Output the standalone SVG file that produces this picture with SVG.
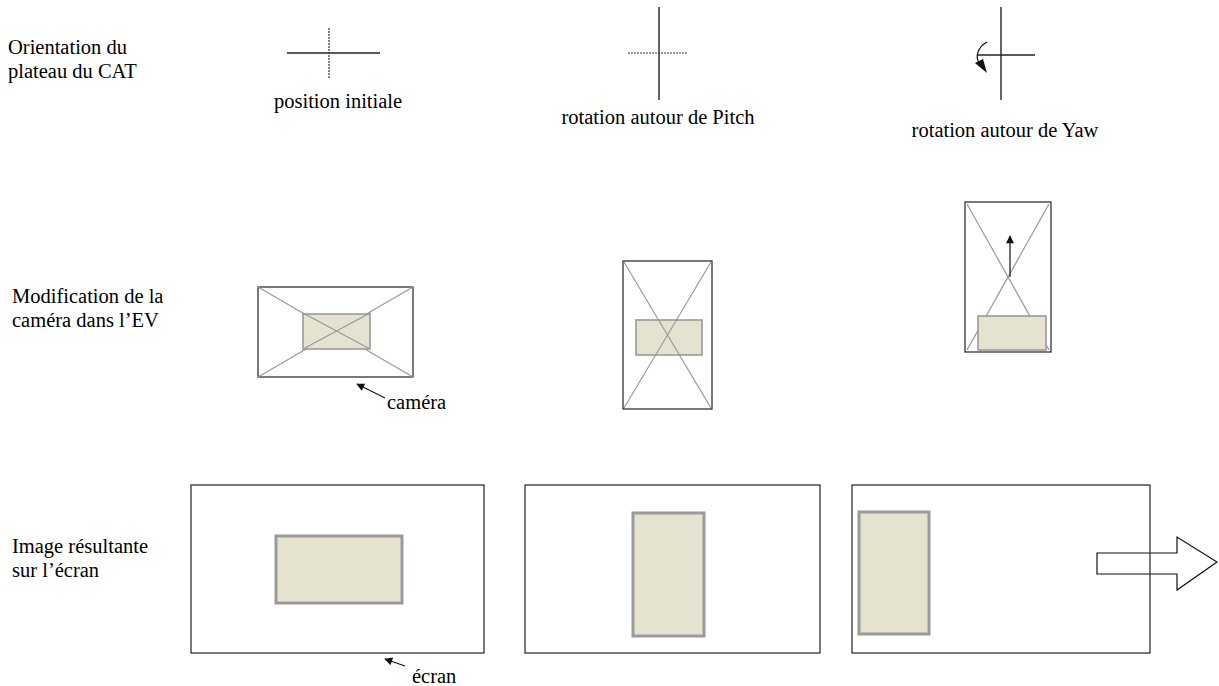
<svg xmlns="http://www.w3.org/2000/svg" width="1219" height="686" viewBox="0 0 1219 686">
<defs>
<style>
.frame{fill:none;stroke:#222;stroke-width:1.2}
.diag{stroke:#999;stroke-width:1.2;fill:none}
.obj{fill:#e5e2d0;stroke:#9a9a9a;stroke-width:1.6}
.obj3{fill:#e5e2d0;stroke:#9a9a9a;stroke-width:3}
.ax{stroke:#222;stroke-width:1.4;fill:none}
.axd{stroke:#333;stroke-width:1.2;stroke-dasharray:2 1;fill:none}
.ln{stroke:#111;stroke-width:1.2;fill:none}
</style>
<marker id="ah" viewBox="0 0 10 10" refX="9" refY="5" markerWidth="10" markerHeight="8" markerUnits="userSpaceOnUse" orient="auto">
<path d="M0,0 L10,5 L0,10 z" fill="#111"/>
</marker>
</defs>
<g id="labels">
<text style="font-family:'Liberation Serif',serif" font-size="20.5" x="8" y="54">Orientation du</text>
<text style="font-family:'Liberation Serif',serif" font-size="20.5" x="8" y="78">plateau du CAT</text>
<text style="font-family:'Liberation Serif',serif" font-size="20.5" x="12" y="303">Modification de la</text>
<text style="font-family:'Liberation Serif',serif" font-size="20.5" x="12" y="327">caméra dans l’EV</text>
<text style="font-family:'Liberation Serif',serif" font-size="20.5" x="12" y="553">Image résultante</text>
<text style="font-family:'Liberation Serif',serif" font-size="20.5" x="12" y="577">sur l’écran</text>
</g>
<g id="orient-initial">
<line class="ax" x1="287" y1="53" x2="380" y2="53"/>
<line class="axd" x1="329" y1="28" x2="329" y2="79"/>
<text style="font-family:'Liberation Serif',serif" font-size="20.5" x="274" y="108">position initiale</text>
</g>
<g id="orient-pitch">
<line class="ax" x1="659" y1="7" x2="659" y2="100"/>
<line class="axd" x1="628" y1="53" x2="688" y2="53"/>
<text style="font-family:'Liberation Serif',serif" font-size="20.5" x="658" y="124" text-anchor="middle">rotation autour de Pitch</text>
</g>
<g id="orient-yaw">
<line class="ax" x1="1001" y1="7" x2="1001" y2="100"/>
<line class="ax" x1="977" y1="55" x2="1035" y2="55"/>
<path class="ln" d="M987,42 C978,47 975,56 979,63"/>
<polygon points="975,63 987,73 983,59" fill="#111"/>
<text style="font-family:'Liberation Serif',serif" font-size="20.5" x="1005" y="137" text-anchor="middle">rotation autour de Yaw</text>
</g>
<g id="camera-initial">
<rect class="frame" x="258" y="287" width="155" height="90"/>
<line class="diag" x1="258" y1="287" x2="413" y2="377"/>
<line class="diag" x1="413" y1="287" x2="258" y2="377"/>
<rect class="obj" x="303" y="314" width="67" height="35"/>
<line class="diag" x1="303" y1="313" x2="370" y2="349"/>
<line class="diag" x1="370" y1="313" x2="303" y2="349"/>
<text style="font-family:'Liberation Serif',serif" font-size="20.5" x="387" y="409">caméra</text>
</g>
<g id="camera-pitch">
<rect class="frame" x="623" y="261" width="89" height="148"/>
<rect class="obj" x="636" y="320" width="66" height="35"/>
<line class="diag" x1="624" y1="262" x2="711" y2="408"/>
<line class="diag" x1="711" y1="262" x2="624" y2="408"/>
</g>
<g id="camera-yaw">
<rect class="frame" x="965" y="202" width="86" height="150"/>
<line class="diag" x1="967" y1="204" x2="1049" y2="350"/>
<line class="diag" x1="1049" y1="204" x2="967" y2="350"/>
<rect class="obj" x="978" y="316" width="68" height="34"/>
</g>
<g id="screen-initial">
<rect class="frame" x="191" y="485" width="293" height="168"/>
<rect class="obj3" x="276" y="536" width="126" height="67"/>
<text style="font-family:'Liberation Serif',serif" font-size="20.5" x="412" y="683">écran</text>
</g>
<g id="screen-pitch">
<rect class="frame" x="525" y="485" width="295" height="168"/>
<rect class="obj3" x="633" y="513" width="71" height="123"/>
</g>
<g id="screen-yaw">
<polygon points="1097,553 1177,553 1177,537 1217,562 1177,590 1177,574 1097,574" fill="none" stroke="#111" stroke-width="1.2"/>
<rect class="frame" x="852" y="485" width="298" height="168"/>
<rect class="obj3" x="859" y="512" width="70" height="122"/>
</g>
<g id="connectors">
<line class="ln" x1="1010" y1="277" x2="1010" y2="236" marker-end="url(#ah)"/>
<line class="ln" x1="385" y1="398" x2="357" y2="384" marker-end="url(#ah)"/>
<line class="ln" x1="405" y1="666" x2="385" y2="659" marker-end="url(#ah)"/>
</g>
</svg>
